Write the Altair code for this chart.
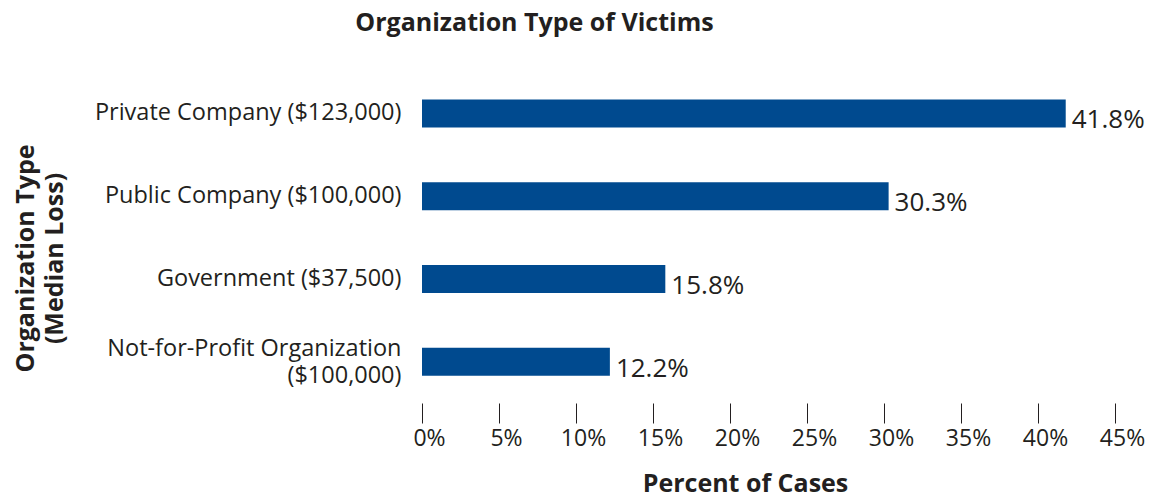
import altair as alt
import pandas as pd

categories = [
    "Private Company ($123,000)",
    "Public Company ($100,000)",
    "Government ($37,500)",
    "Not-for-Profit Organization|($100,000)",
]
percents = [41.8, 30.3, 15.8, 12.2]
tick_values = [0, 5, 10, 15, 20, 25, 30, 35, 40, 45]

df = pd.DataFrame({"org": categories, "pct": percents})

FONT = "Open Sans"
DARK = "#231F20"
BLUE = "#004A8F"

y_enc = alt.Y(
    "org:N",
    sort=None,
    scale=alt.Scale(paddingInner=0.66, paddingOuter=0.33),
    axis=alt.Axis(
        title=["Organization Type", "(Median Loss)"],
        titleFontSize=25,
        titleFont=FONT,
        titleFontWeight="bold",
        titleColor=DARK,
        titleLineHeight=29,
        titleX=-384,
        titleY=186,
        labelExpr="split(datum.label, '|')",
        labelFontSize=23.5,
        labelFont=FONT,
        labelColor=DARK,
        labelLimit=500,
        labelPadding=21,
        labelLineHeight=27,
        labelOffset={"condition": {"test": "indexof(datum.label, '|') >= 0", "value": -13}, "value": 0},
        domain=False,
        ticks=False,
        grid=False,
    ),
)

x_enc = alt.X(
    "pct:Q",
    scale=alt.Scale(domain=[0, 45], nice=False),
    axis=alt.Axis(
        title="Percent of Cases",
        titleFontSize=25,
        titleFont=FONT,
        titleFontWeight="bold",
        titleColor=DARK,
        titlePadding=21,
        titleX=323,
        values=tick_values,
        labelExpr="datum.value + '%'",
        labelFontSize=23,
        labelFont=FONT,
        labelColor=DARK,
        labelPadding=4,
        labelOffset=7,
        labelFlush=False,
        labelOverlap=False,
        tickSize=20,
        tickColor=DARK,
        tickWidth=1,
        domain=False,
        grid=False,
    ),
)

bars = alt.Chart(df).mark_bar(color=BLUE, size=28).encode(x=x_enc, y=y_enc)

labels = (
    alt.Chart(df)
    .transform_calculate(lab="format(datum.pct, '.1f') + '%'")
    .mark_text(align="left", baseline="middle", dx=6, dy=7, fontSize=26, font=FONT, color=DARK)
    .encode(x="pct:Q", y=alt.Y("org:N", sort=None), text="lab:N")
)

chart = (
    alt.layer(bars, labels)
    .properties(
        width=693,
        height=331,
        padding={"top": 3, "left": 5, "right": 5, "bottom": 5},
        title=alt.TitleParams(
            "Organization Type of Victims",
            fontSize=25,
            font=FONT,
            fontWeight="bold",
            color=DARK,
            anchor="middle",
            dx=-234,
            offset=36,
        ),
    )
    .configure_view(stroke=None)
)

chart.save("out.html", embed_options={"renderer": "svg", "actions": False})
